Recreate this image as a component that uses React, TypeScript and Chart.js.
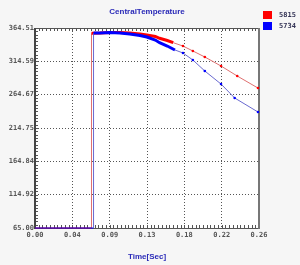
import React, { useEffect, useRef } from "react";
import { Chart, registerables } from "chart.js";

Chart.register(...registerables);

const titleText = "CentralTemperature";
const xTitle = "Time[Sec]";
const seriesNames = ["5815", "5734"];

const xTickValues = [0, 0.04375, 0.0875, 0.13125, 0.175, 0.21875, 0.2625];
const xTickLabels = ["0.00", "0.04", "0.09", "0.13", "0.18", "0.22", "0.26"];
const yTickValues = [65, 114.92, 164.84, 214.75, 264.67, 314.59, 364.51];
const yTickLabels = ["65.00", "114.92", "164.84", "214.75", "264.67", "314.59", "364.51"];

const redTime = [0, 0.0661, 0.0662, 0.0762, 0.0879, 0.0996, 0.111, 0.123, 0.131, 0.141, 0.146, 0.155, 0.162, 0.1734, 0.185, 0.199, 0.218, 0.237, 0.2613];
const redTemp = [65, 65, 356.6, 357, 357.8, 357.8, 357, 355.5, 354, 351.8, 349.1, 345.8, 342.5, 337.5, 330.1, 321.1, 307.6, 292.6, 274.6];
const blueTime = [0, 0.0685, 0.0686, 0.0762, 0.0879, 0.0996, 0.111, 0.123, 0.131, 0.141, 0.146, 0.155, 0.164, 0.1734, 0.185, 0.199, 0.218, 0.234, 0.2613];
const blueTemp = [65, 65, 357, 357, 357.8, 357, 355.5, 353.3, 351, 346.5, 342.5, 337.5, 331.6, 327.1, 316.6, 300.1, 280.6, 259.7, 238.7];
const denseEnd = [0.163, 0.165];

const strong = ["#ff0000", "#0000ff"];
const light = ["#e07070", "#6a6ad0"];

const framePlugin = {
  id: "frame",
  beforeDatasetsDraw(chart: any) {
    const { ctx, chartArea: a, scales } = chart;
    const xs = scales.x, ys = scales.y;
    ctx.save();
    ctx.strokeStyle = "#555";
    ctx.lineWidth = 1;
    const xStep = (xTickValues[1] - xTickValues[0]) / 10;
    ctx.beginPath();
    for (let v = xTickValues[0]; v <= xTickValues[xTickValues.length - 1] + 1e-9; v += xStep) {
      const px = Math.round(xs.getPixelForValue(v)) + 0.5;
      ctx.moveTo(px, a.top);
      ctx.lineTo(px, a.top + 3);
      ctx.moveTo(px, a.bottom);
      ctx.lineTo(px, a.bottom - 3);
    }
    const yStep = (yTickValues[1] - yTickValues[0]) / 10;
    for (let v = yTickValues[0]; v <= yTickValues[yTickValues.length - 1] + 1e-6; v += yStep) {
      const py = Math.round(ys.getPixelForValue(v)) + 0.5;
      ctx.moveTo(a.left - 1, py);
      ctx.lineTo(a.left + 3, py);
    }
    ctx.stroke();
    ctx.beginPath();
    ctx.moveTo(a.left, Math.round(a.top) + 0.5);
    ctx.lineTo(a.right, Math.round(a.top) + 0.5);
    ctx.moveTo(a.left, Math.round(a.bottom) + 0.5);
    ctx.lineTo(a.right, Math.round(a.bottom) + 0.5);
    ctx.stroke();
    ctx.lineWidth = 2;
    ctx.strokeStyle = "#444";
    ctx.beginPath();
    ctx.moveTo(Math.round(a.left), a.top);
    ctx.lineTo(Math.round(a.left), a.bottom + 1);
    ctx.stroke();
    ctx.strokeStyle = "#777";
    ctx.beginPath();
    ctx.moveTo(Math.round(a.right), a.top);
    ctx.lineTo(Math.round(a.right), a.bottom + 1);
    ctx.stroke();
    ctx.restore();
  },
  afterDraw(chart: any) {
    const { ctx, chartArea: a } = chart;
    ctx.save();
    ctx.font = "bold 8px 'Liberation Sans', sans-serif";
    ctx.fillStyle = "#2a2ab8";
    ctx.textAlign = "center";
    ctx.textBaseline = "middle";
    ctx.fillText(titleText, (a.left + a.right) / 2, 12);
    ctx.textAlign = "left";
    ctx.font = "bold 7px 'DejaVu Sans Mono', monospace";
    chart.data.datasets.forEach((ds: any, i: number) => {
      const y = 11 + i * 11;
      ctx.fillStyle = strong[i];
      ctx.fillRect(263, y, 9, 8);
      ctx.fillStyle = "#333355";
      ctx.fillText(ds.label, 279, y + 4);
    });
    ctx.restore();
  },
};

const bgPlugin = {
  id: "bg",
  beforeDraw(chart: any) {
    const { ctx, chartArea: a, width, height } = chart;
    ctx.save();
    ctx.fillStyle = "#f6f6f6";
    ctx.fillRect(0, 0, width, height);
    ctx.fillStyle = "#ffffff";
    ctx.fillRect(a.left, a.top, a.right - a.left, a.bottom - a.top);
    ctx.restore();
  },
};

function makeDataset(i: number, times: number[], temps: number[]) {
  const end = denseEnd[i];
  const isDense = (c: any) => c.p0.parsed.y > 200 && c.p1.parsed.x <= end;
  return {
    label: seriesNames[i],
    data: times.map((t, k) => ({ x: t, y: temps[k] })),
    borderColor: light[i],
    backgroundColor: strong[i],
    borderWidth: 1,
    pointRadius: (c: any) => (c.raw && c.raw.x > end ? 1.3 : 0),
    pointBackgroundColor: strong[i],
    pointBorderWidth: 0,
    tension: 0,
    clip: 3,
    order: i === 0 ? 1 : 0,
    segment: {
      borderWidth: (c: any) => (isDense(c) ? 3 : 1),
      borderColor: (c: any) => (isDense(c) ? strong[i] : c.p0.parsed.y < 100 && c.p1.parsed.y < 100 ? strong[i] : light[i]),
    },
  };
}

export default function App() {
  const ref = useRef<HTMLCanvasElement>(null);
  useEffect(() => {
    document.body.style.margin = "0";
    const chart = new Chart(ref.current!, {
      type: "line",
      data: {
        datasets: [makeDataset(0, redTime, redTemp), makeDataset(1, blueTime, blueTemp)] as any,
      },
      options: {
        animation: false,
        responsive: false,
        layout: { padding: { left: 0, right: 41, top: 28, bottom: 0 } },
        plugins: { legend: { display: false }, title: { display: false }, tooltip: { enabled: false } },
        scales: {
          x: {
            type: "linear",
            min: xTickValues[0],
            max: xTickValues[xTickValues.length - 1],
            afterBuildTicks: (s: any) => {
              s.ticks = xTickValues.map((v) => ({ value: v }));
            },
            afterFit: (s: any) => {
              s.height = 37;
            },
            ticks: {
              autoSkip: false,
              maxRotation: 0,
              padding: 3,
              color: "#555",
              font: { family: "'DejaVu Sans Mono', monospace", size: 7, weight: "bold" },
              callback: (_v: any, idx: number) => xTickLabels[idx],
            },
            grid: { color: "#555", lineWidth: 1, tickLength: 0, drawTicks: false },
            border: { display: false, dash: [1, 2] },
            title: {
              display: true,
              text: xTitle,
              color: "#2a2ab8",
              font: { family: "'Liberation Sans', sans-serif", size: 8, weight: "bold" },
              padding: { top: 0, bottom: 3 },
            },
          },
          y: {
            type: "linear",
            min: yTickValues[0],
            max: yTickValues[yTickValues.length - 1],
            afterBuildTicks: (s: any) => {
              s.ticks = yTickValues.map((v) => ({ value: v }));
            },
            afterFit: (s: any) => {
              s.width = 35;
            },
            ticks: {
              autoSkip: false,
              padding: 1,
              color: "#555",
              font: { family: "'DejaVu Sans Mono', monospace", size: 7, weight: "bold" },
              callback: (_v: any, idx: number) => yTickLabels[idx],
            },
            grid: { color: "#555", lineWidth: 1, tickLength: 0, drawTicks: false },
            border: { display: false, dash: [1, 2] },
          },
        },
      } as any,
      plugins: [bgPlugin, framePlugin],
    });
    return () => chart.destroy();
  }, []);
  return (
    <div style={{ position: "absolute", left: 0, top: 0, width: 300, height: 265 }}>
      <canvas ref={ref} width={300} height={265} style={{ width: 300, height: 265, display: "block" }} />
    </div>
  );
}
